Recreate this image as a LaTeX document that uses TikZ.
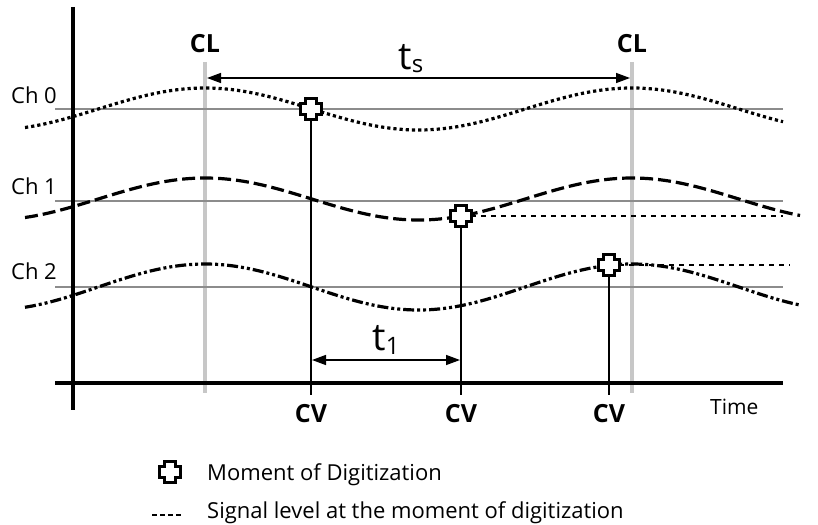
\documentclass[tikz,border=0pt]{standalone}
\usepackage{fontspec}
\setmainfont{Open Sans}
\usetikzlibrary{arrows.meta}
\newcommand\digmark[1]{%
  \draw[markline] (#1) ++(-5.5pt,-10.5pt) -- ++(11pt,0pt) -- ++(0pt,5pt) -- ++(5pt,0pt)
    -- ++(0pt,11pt) -- ++(-5pt,0pt) -- ++(0pt,5pt) -- ++(-11pt,0pt) -- ++(0pt,-5pt)
    -- ++(-5pt,0pt) -- ++(0pt,-11pt) -- ++(5pt,0pt) -- cycle;}
\begin{document}
\begin{tikzpicture}[x=1pt,y=-1pt,
  chlvl/.style={line width=1.2pt, draw=black!45},
  clbar/.style={line width=4pt, draw=black!22},
  axisln/.style={line width=3.5pt},
  sig0/.style={line width=3.2pt, dash pattern=on 3.2pt off 3pt},
  sig1/.style={line width=3.2pt, dash pattern=on 13pt off 5pt},
  sig2/.style={line width=3.2pt, dash pattern=on 11pt off 3pt on 3pt off 3pt on 3pt off 3pt},
  lvl/.style={line width=2pt, dash pattern=on 5pt off 5pt},
  cvline/.style={line width=1.6pt},
  dim/.style={line width=1.4pt, {Triangle[length=14pt,width=10pt]}-{Triangle[length=14pt,width=10pt]}},
  markline/.style={line width=2.2pt, fill=white, line join=miter},
  lab/.style={font=\fontsize{22}{25}\selectfont, inner sep=0pt},
  boldlab/.style={font=\fontsize{25}{28}\selectfont\bfseries, inner sep=0pt},
]
\useasboundingbox (0,0) rectangle (818,524);

% coordinates
\coordinate (yt) at (73,7);   \coordinate (yb) at (73,410);
\coordinate (xl) at (55,383); \coordinate (xr) at (783,383);
\coordinate (cl1t) at (205,62); \coordinate (cl1b) at (205,393);
\coordinate (cl2t) at (632,62); \coordinate (cl2b) at (632,393);
\coordinate (c0l) at (55,109); \coordinate (c0r) at (783,109);
\coordinate (c1l) at (55,201); \coordinate (c1r) at (783,201);
\coordinate (c2l) at (55,287); \coordinate (c2r) at (783,287);
\coordinate (m1) at (311,109);
\coordinate (m2) at (461,216);
\coordinate (m3) at (609,265);
\coordinate (l2) at (783,216);
\coordinate (l3) at (790,265);
\coordinate (b1) at (311,395);
\coordinate (b2) at (461,395);
\coordinate (b3) at (609,395);
\coordinate (tsl) at (207,78); \coordinate (tsr) at (630,78);
\coordinate (t1l) at (312,360); \coordinate (t1r) at (460,360);
\coordinate (lgm) at (170,472);
\coordinate (lgdl) at (152,515); \coordinate (lgdr) at (183,515);

% clock bars and channel levels
\draw[clbar] (cl1t) -- (cl1b);
\draw[clbar] (cl2t) -- (cl2b);
\draw[chlvl] (c0l) -- (c0r);
\draw[chlvl] (c1l) -- (c1r);
\draw[chlvl] (c2l) -- (c2r);

% axes
\draw[axisln] (yt) -- (yb);
\draw[axisln] (xl) -- (xr);

% signals
\draw[sig0] plot[domain=25:783, samples=160, smooth] (\x, {109-21*cos(0.843091*(\x-205))});
\draw[sig1] plot[domain=25:800, samples=160, smooth] (\x, {199-21*cos(0.843091*(\x-205))});
\draw[sig2] plot[domain=25:800, samples=160, smooth] (\x, {287-23*cos(0.843091*(\x-205))});

% signal level lines
\draw[lvl] (m2) -- (l2);
\draw[lvl] (m3) -- (l3);

% conversion lines
\draw[cvline] (m1) -- (b1);
\draw[cvline] (m2) -- (b2);
\draw[cvline] (m3) -- (b3);

% dimension arrows
\draw[dim] (tsl) -- (tsr);
\draw[dim] (t1l) -- (t1r);

% markers
\digmark{m1}
\digmark{m2}
\digmark{m3}
\digmark{lgm}
\draw[line width=1.5pt, dash pattern=on 4.5pt off 3.5pt] (lgdl) -- (lgdr);

% labels
\node[boldlab] (cl1) at (205,44) {CL};
\node[boldlab] (cl2) at (632,44) {CL};
\node[inner sep=0pt, anchor=base] (ts) at (411,70) {{\fontsize{38}{38}\selectfont t}\raisebox{-3pt}{\fontsize{24}{24}\selectfont s}};
\node[inner sep=0pt, anchor=base] (t1) at (386,350) {{\fontsize{38}{38}\selectfont t}\raisebox{-4pt}{\fontsize{24}{24}\selectfont 1}};
\node[lab, anchor=base east] (ch0) at (57,103) {Ch 0};
\node[lab, anchor=base east] (ch1) at (57,194) {Ch 1};
\node[lab, anchor=base east] (ch2) at (57,279) {Ch 2};
\node[boldlab] (cv1) at (311,414) {CV};
\node[boldlab] (cv2) at (461,414) {CV};
\node[boldlab] (cv3) at (609,414) {CV};
\node[lab, font=\fontsize{21}{24}\selectfont, anchor=base west] (time) at (710,414) {Time};
\node[lab, anchor=base west] (lg1) at (207,480) {Moment of Digitization};
\node[lab, anchor=base west] (lg2) at (207,518) {Signal level at the moment of digitization};
\end{tikzpicture}
\end{document}
